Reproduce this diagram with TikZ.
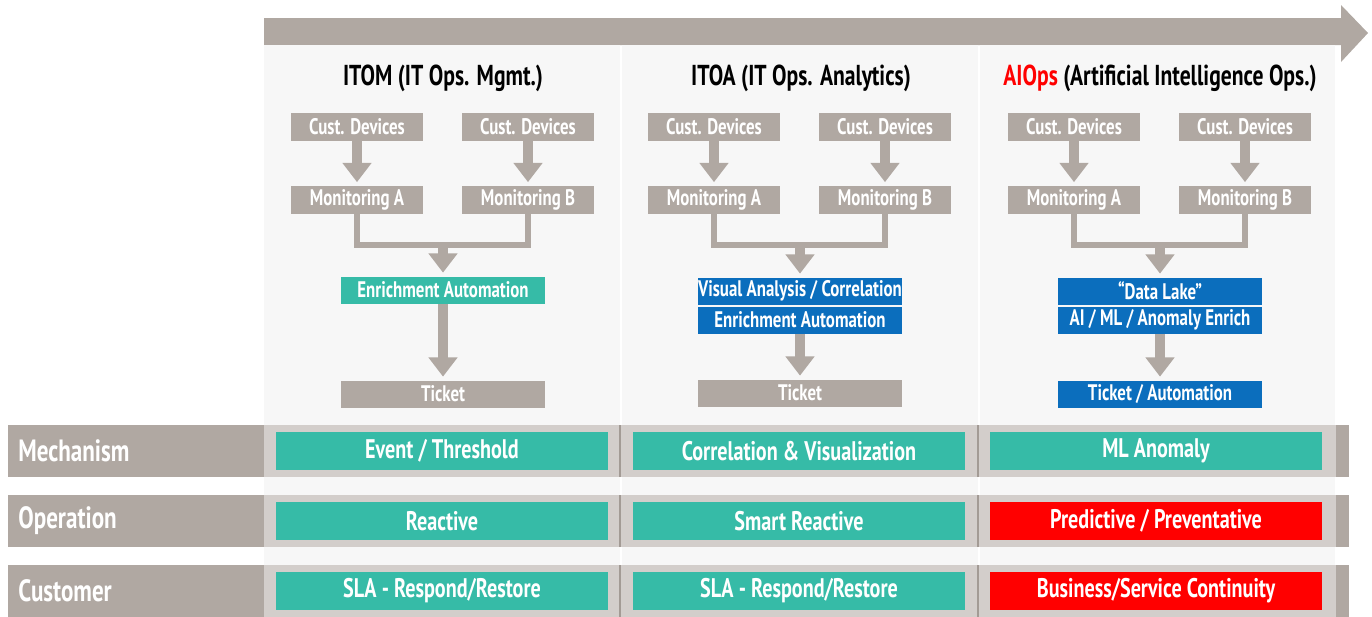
\documentclass[tikz,border=0pt]{standalone}
\usepackage{fontspec}
\setmainfont{PT Sans}[FakeStretch=0.75]
\usetikzlibrary{arrows.meta,positioning}

\definecolor{taupe}{HTML}{B0A8A2}
\definecolor{bandgray}{HTML}{D3CECB}
\definecolor{sepgray}{HTML}{A39B95}
\definecolor{panelgray}{HTML}{F7F7F7}
\definecolor{flowteal}{HTML}{36BBA7}
\definecolor{flowblue}{HTML}{0B6EBD}
\definecolor{alertred}{HTML}{FF0000}

\tikzset{
  greybox/.style={fill=taupe, text=white, inner sep=0pt,
    font=\bfseries\fontsize{12.8}{15}\selectfont,
    minimum width=2.64cm, minimum height=0.56cm},
  widebox/.style={greybox, minimum width=4.1cm, minimum height=0.54cm},
  tealbox/.style={widebox, fill=flowteal},
  bluebox/.style={widebox, fill=flowblue},
  title/.style={font=\bfseries\fontsize{16.4}{19}\selectfont, inner sep=0pt},
  rowlabel/.style={anchor=west, text=white, inner sep=0pt,
    font=\bfseries\fontsize{17.5}{20}\selectfont},
  rowcell/.style={fill=flowteal, text=white, inner sep=0pt,
    font=\bfseries\fontsize{15.3}{18}\selectfont,
    minimum width=6.64cm, minimum height=0.76cm},
  redcell/.style={rowcell, fill=alertred},
  flow/.style={draw=taupe, line width=6pt, shorten >=2pt,
    -{Triangle[width=16pt,length=11pt]}},
  joint/.style={draw=taupe, line width=3pt},
}

\begin{document}
\begin{tikzpicture}[x=0.02cm, y=-0.02cm]
  \useasboundingbox (0,0) rectangle (1372,616);

  % time axis
  \fill[taupe] (264,18) -- (1341,18) -- (1341,5) -- (1368,33)
    -- (1341,62) -- (1341,45) -- (264,45) -- cycle;

  % column panels
  \fill[panelgray] (264,45) rectangle (620,616);
  \fill[panelgray] (622,45) rectangle (978,616);
  \fill[panelgray] (980,45) rectangle (1335,616);

  % row bands
  \foreach \y in {425,495,565} {
    \fill[taupe] (8,\y) rectangle (264,\y+52);
    \fill[bandgray] (264,\y) rectangle (1336,\y+52);
    \fill[taupe] (1336,\y) rectangle (1349,\y+52);
    \draw[sepgray, line width=1.5pt] (620,\y) -- (620,\y+52);
    \draw[sepgray, line width=1.5pt] (978,\y) -- (978,\y+52);
  }

  % titles
  \node[title] (itom) at (443,78) {ITOM (IT Ops. Mgmt.)};
  \node[title] (itoa) at (801,78) {ITOA (IT Ops. Analytics)};
  \node[title] (aiops) at (1160,78) {\textcolor{alertred}{AIOps} (Artificial Intelligence Ops.)};

  % ITOM
  \node[greybox] (dev1A) at (357,127) {Cust. Devices};
  \node[greybox] (dev1B) at (528,127) {Cust. Devices};
  \node[greybox] (mon1A) at (357,200) {Monitoring A};
  \node[greybox] (mon1B) at (528,200) {Monitoring B};
  \coordinate (j1) at (443,245);
  \node[tealbox] (enr1) at (443,290) {Enrichment Automation};
  \node[widebox] (tic1) at (443,394) {Ticket};
  \draw[flow] (dev1A) -- (mon1A);
  \draw[flow] (dev1B) -- (mon1B);
  \draw[joint] (mon1A.south) |- (j1) -| (mon1B.south);
  \draw[flow] (j1) -- (enr1);
  \draw[flow] (enr1) -- (tic1);

  % ITOA
  \node[greybox] (dev2A) at (714,127) {Cust. Devices};
  \node[greybox] (dev2B) at (885,127) {Cust. Devices};
  \node[greybox] (mon2A) at (714,200) {Monitoring A};
  \node[greybox] (mon2B) at (885,200) {Monitoring B};
  \coordinate (j2) at (800,245);
  \node[bluebox] (vis2) at (800,291) {Visual Analysis / Correlation};
  \node[bluebox] (enr2) at (800,320) {Enrichment Automation};
  \node[widebox] (tic2) at (800,393) {Ticket};
  \draw[flow] (dev2A) -- (mon2A);
  \draw[flow] (dev2B) -- (mon2B);
  \draw[joint] (mon2A.south) |- (j2) -| (mon2B.south);
  \draw[flow] (j2) -- (vis2);
  \draw[flow] (enr2) -- (tic2);

  % AIOps
  \node[greybox] (dev3A) at (1074,127) {Cust. Devices};
  \node[greybox] (dev3B) at (1245,127) {Cust. Devices};
  \node[greybox] (mon3A) at (1074,200) {Monitoring A};
  \node[greybox] (mon3B) at (1245,200) {Monitoring B};
  \coordinate (j3) at (1160,245);
  \node[bluebox] (lake3) at (1160,291) {``Data Lake''};
  \node[bluebox] (ai3) at (1160,320) {AI / ML / Anomaly Enrich};
  \node[bluebox] (tic3) at (1160,394) {Ticket / Automation};
  \draw[flow] (dev3A) -- (mon3A);
  \draw[flow] (dev3B) -- (mon3B);
  \draw[joint] (mon3A.south) |- (j3) -| (mon3B.south);
  \draw[flow] (j3) -- (lake3);
  \draw[flow] (ai3) -- (tic3);

  % rows
  \node[rowlabel] (mech) at (18,451) {Mechanism};
  \node[rowcell] (mech1) at (442,451) {Event / Threshold};
  \node[rowcell] (mech2) at (799,451) {Correlation \& Visualization};
  \node[rowcell] (mech3) at (1156,451) {ML Anomaly};

  \node[rowlabel] (oper) at (18,521) {Operation};
  \node[rowcell] (oper1) at (442,521) {Reactive};
  \node[rowcell] (oper2) at (799,521) {Smart Reactive};
  \node[redcell] (oper3) at (1156,521) {Predictive / Preventative};

  \node[rowlabel] (cust) at (18,591) {Customer};
  \node[rowcell] (cust1) at (442,591) {SLA - Respond/Restore};
  \node[rowcell] (cust2) at (799,591) {SLA - Respond/Restore};
  \node[redcell] (cust3) at (1156,591) {Business/Service Continuity};
\end{tikzpicture}
\end{document}
